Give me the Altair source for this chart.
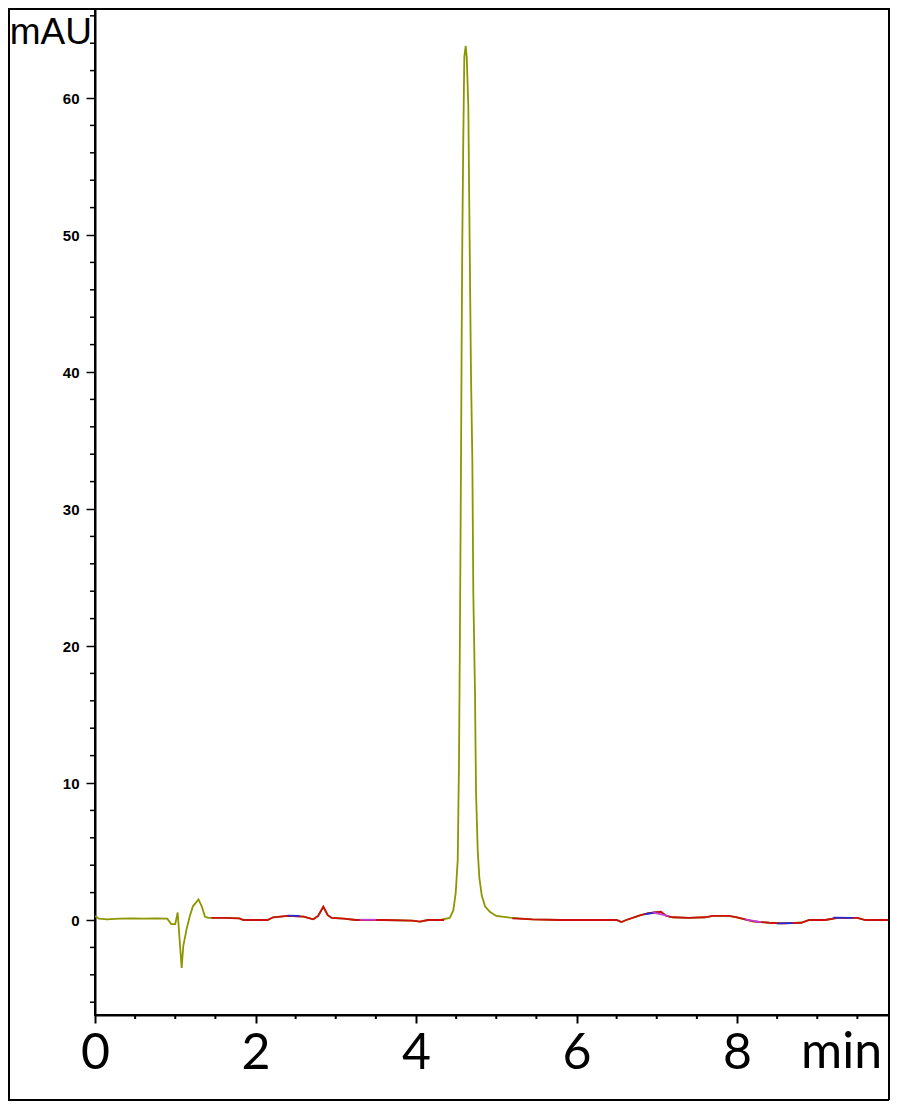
import altair as alt
import pandas as pd

# ---------------- data ----------------
olive_t = [0.0, 0.05, 0.15, 0.3, 0.45, 0.6, 0.75, 0.9, 0.95, 1.0, 1.03, 1.08, 1.10, 1.14,
           1.18, 1.22, 1.29, 1.33, 1.37, 1.41, 1.6, 1.8, 1.85, 2.15, 2.22, 2.4, 2.6, 2.72,
           2.78, 2.845, 2.9, 2.95, 3.1, 3.25, 3.6, 3.95, 4.05, 4.15, 4.3, 4.42, 4.465,
           4.495, 4.52, 4.536, 4.548, 4.561, 4.569, 4.577, 4.589, 4.602, 4.619, 4.632,
           4.652, 4.664, 4.685, 4.702, 4.714, 4.735, 4.748, 4.769, 4.789, 4.819, 4.86,
           4.92, 5.0, 5.17, 5.45, 5.8, 6.2, 6.5, 6.56, 6.62, 6.8, 6.9, 7.05, 7.12, 7.2,
           7.4, 7.6, 7.7, 7.9, 8.0, 8.2, 8.4, 8.55, 8.8, 8.9, 9.1, 9.25, 9.5, 9.6, 9.89]
olive_v = [0.3, 0.1, 0.05, 0.1, 0.12, 0.1, 0.12, 0.1, -0.3, -0.3, 0.55, -3.5, -1.9, -0.7,
           0.25, 1.0, 1.5, 1.0, 0.25, 0.15, 0.15, 0.12, 0.0, 0.0, 0.2, 0.3, 0.25, 0.05,
           0.3, 0.97, 0.35, 0.15, 0.1, 0.0, 0.0, -0.05, -0.12, 0.0, 0.0, 0.15, 0.7,
           2.0, 4.4, 11.7, 21.4, 33.6, 42.3, 49.6, 56.9, 63.0, 63.8, 63.0,
           59.4, 52.1, 39.9, 33.6, 23.9, 16.6, 9.3, 5.1, 3.1, 1.8, 1.0,
           0.6, 0.3, 0.17, 0.05, 0.0, 0.0, 0.0, -0.15, 0.0, 0.35, 0.5, 0.6, 0.3, 0.2,
           0.15, 0.2, 0.3, 0.3, 0.2, -0.1, -0.2, -0.25, -0.2, 0.0, 0.0, 0.15, 0.15, 0.0, 0.0]

red_seg = [1, 1, 1, 1, 1, 1, 1, 1, 1, 1, 1, 1, 1, 1, 1, 1, 1, 1, 1, 1,
           2, 2, 2, 2, 2, 2, 2, 2, 2, 2, 2, 2, 2, 2, 2, 2, 2, 2, 2, 2, 2, 2, 2, 2, 2, 2, 2]
red_t = [1.45, 1.6, 1.8, 1.85, 2.15, 2.22, 2.4, 2.6, 2.72, 2.78, 2.845, 2.9, 2.95, 3.1,
         3.25, 3.6, 3.95, 4.05, 4.15, 4.35,
         5.2, 5.45, 5.8, 6.2, 6.5, 6.56, 6.62, 6.8, 6.9, 7.05, 7.12, 7.2, 7.4, 7.6, 7.7,
         7.9, 8.0, 8.2, 8.4, 8.55, 8.8, 8.9, 9.1, 9.25, 9.5, 9.6, 9.89]
red_v = [0.15, 0.15, 0.12, 0.0, 0.0, 0.2, 0.3, 0.25, 0.05, 0.3, 0.97, 0.35, 0.15, 0.1,
         0.0, 0.0, -0.05, -0.12, 0.0, 0.0,
         0.12, 0.05, 0.0, 0.0, 0.0, -0.15, 0.0, 0.35, 0.5, 0.6, 0.3, 0.2, 0.15, 0.2, 0.3,
         0.3, 0.2, -0.1, -0.2, -0.25, -0.2, 0.0, 0.0, 0.15, 0.15, 0.0, 0.0]

blue_seg = [1, 1, 2, 2, 3, 3, 4, 4]
blue_t = [2.4, 2.55, 6.85, 7.0, 8.5, 8.7, 9.2, 9.45]
blue_v = [0.32, 0.3, 0.42, 0.55, -0.25, -0.23, 0.17, 0.16]

magenta_seg = [1, 1, 2, 2, 3, 3]
magenta_t = [6.95, 7.15, 8.1, 8.3, 3.3, 3.5]
magenta_v = [0.55, 0.28, 0.05, -0.15, 0.02, 0.02]

x_major = [0, 2, 4, 6, 8]
x_minor = [0.5, 1, 1.5, 2.5, 3, 3.5, 4.5, 5, 5.5, 6.5, 7, 7.5, 8.5, 9, 9.5]
y_major = [0, 10, 20, 30, 40, 50, 60]
y_minor = [-6, -4, -2, 2, 4, 6, 8, 12, 14, 16, 18, 22, 24, 26, 28, 32, 34, 36, 38,
           42, 44, 46, 48, 52, 54, 56, 58, 62, 64, 66]

# ---------------- chart ----------------
W, H = 794, 1007
xs = alt.Scale(domain=[0, 9.894], nice=False, zero=False)
ys = alt.Scale(domain=[-6.934, 66.57], nice=False, zero=False)

x_axis = alt.Axis(values=x_major, format="d", tickSize=8, tickWidth=2, tickColor="black",
                  domainColor="black", domainWidth=2, grid=False, title=None,
                  labelFont="Lato", labelFontSize=50, labelColor="black",
                  labelPadding=5, labelFlush=False, labelOverlap=False)
y_axis = alt.Axis(values=y_major, format="d", tickSize=9, tickWidth=1.5, tickColor="black",
                  domainColor="black", domainWidth=2, grid=False, title=None,
                  labelFont="Liberation Sans", labelFontSize=15, labelFontWeight="bold",
                  labelColor="black", labelPadding=7, labelFlush=False, labelOverlap=False)


def trace(ts, vs, segs, color, width):
    df = pd.DataFrame({"t": ts, "v": vs, "seg": segs})
    return alt.Chart(df).mark_line(color=color, strokeWidth=width, clip=True).encode(
        x=alt.X("t:Q", scale=xs, axis=x_axis),
        y=alt.Y("v:Q", scale=ys, axis=y_axis),
        detail="seg:N",
        order="t:Q",
    )


olive = trace(olive_t, olive_v, [1] * len(olive_t), "#8c9600", 1.8)
red = trace(red_t, red_v, red_seg, "#cc1010", 1.8)
blue = trace(blue_t, blue_v, blue_seg, "#2a2ad0", 1.8)
magenta = trace(magenta_t, magenta_v, magenta_seg, "#c040d0", 1.8)

ym = alt.Chart(pd.DataFrame({"v": y_minor})).mark_rule(color="black", strokeWidth=1.5).encode(
    y=alt.Y("v:Q", scale=ys), x=alt.value(-5), x2=alt.value(0))
xm = alt.Chart(pd.DataFrame({"t": x_minor})).mark_rule(color="black", strokeWidth=2).encode(
    x=alt.X("t:Q", scale=xs), y=alt.value(H), y2=alt.value(H + 4))

one = pd.DataFrame({"a": [0]})
frame_left = alt.Chart(one).mark_rule(color="black", strokeWidth=2).encode(
    x=alt.value(-86), y=alt.value(0), y2=alt.value(1092))
frame_bottom = alt.Chart(one).mark_rule(color="black", strokeWidth=2).encode(
    x=alt.value(-87), x2=alt.value(W), y=alt.value(1092))
frame_right = alt.Chart(one).mark_rule(color="black", strokeWidth=2).encode(
    x=alt.value(W), y=alt.value(0), y2=alt.value(1092))
frame_top = alt.Chart(one).mark_rule(color="black", strokeWidth=2).encode(
    x=alt.value(-87), x2=alt.value(W), y=alt.value(1))

mau = alt.Chart(one).mark_text(text="mAU", align="right", baseline="alphabetic",
                               font="Liberation Sans", fontSize=37, color="black").encode(
    x=alt.value(-3), y=alt.value(36))
mins = alt.Chart(one).mark_text(text="min", align="left", baseline="alphabetic",
                                font="Lato", fontSize=50, color="black").encode(
    x=alt.value(706), y=alt.value(1060))

chart = alt.layer(olive, red, blue, magenta, ym, xm,
                  frame_left, frame_bottom, frame_right, frame_top, mau, mins).properties(
    width=W, height=H,
    autosize=alt.AutoSizeParams(type="none"),
    padding={"left": 87, "top": 0, "right": 1, "bottom": 86},
    background="white",
).configure_view(stroke="black", strokeWidth=2)

chart.save("out.html", embed_options={"renderer": "svg", "actions": False})
